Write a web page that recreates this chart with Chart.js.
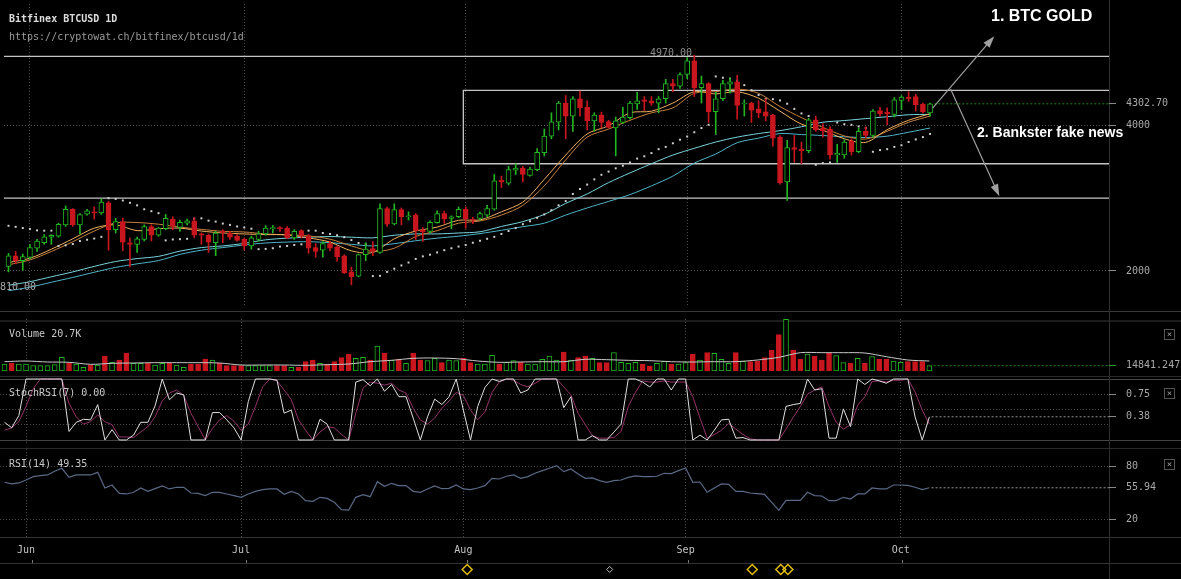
<!DOCTYPE html>
<html lang="en">
<head>
<meta charset="UTF-8">
<title>Bitfinex BTCUSD 1D</title>
<script src="https://cdn.jsdelivr.net/npm/chart.js"></script>
<style>
  html, body { margin: 0; padding: 0; background: #000; }
  body { position: relative; width: 1181px; height: 579px; overflow: hidden; font-family: 'DejaVu Sans Mono', monospace; }
  canvas { position: absolute; left: 0; }
  .txt { position: absolute; white-space: nowrap; font-size: 10px; line-height: 12px; color: #c8c8c8; }
  .sep { position: absolute; left: 0; width: 1181px; height: 1px; background: #2e2e2e; }
  .note { position: absolute; white-space: nowrap; color: #fff; font-family: 'Liberation Sans', Arial, sans-serif; font-weight: bold; }
  .close { position: absolute; left: 1164px; width: 9px; height: 9px; border: 1px solid #555; color: #999; font-size: 9px; line-height: 9px; text-align: center; }
</style>
</head>
<body>
  <div class="sep" style="top:311px;background:#383838"></div>
  <div class="sep" style="top:320px;height:2px;background:#1c1c1c"></div>
  <div class="sep" style="top:376px;background:#2a2a2a"></div>
  <div class="sep" style="top:379px;background:#444"></div>
  <div class="sep" style="top:440px;background:#444"></div>
  <div class="sep" style="top:448px;background:#2a2a2a"></div>
  <div class="sep" style="top:537px;background:#333"></div>
  <div class="sep" style="top:563px;background:#333"></div>
  <div style="position:absolute;left:1109px;top:0;width:1px;height:579px;background:#2e2e2e"></div>

  <canvas id="cMain" width="1181" height="311" style="top:0"></canvas>
  <canvas id="cVol" width="1181" height="52" style="top:319px"></canvas>
  <canvas id="cStoch" width="1181" height="67" style="top:376px"></canvas>
  <canvas id="cRsi" width="1181" height="116" style="top:449px"></canvas>
  <canvas id="cMark" width="1181" height="21" style="top:558px"></canvas>

  <div class="txt" style="left:9px;top:13px;font-weight:bold;color:#dcdcdc">Bitfinex BTCUSD 1D</div>
  <div class="txt" style="left:9px;top:31px;color:#9a9a9a">https://cryptowat.ch/bitfinex/btcusd/1d</div>
  <div class="txt" style="left:650px;top:47px;color:#8c8c8c">4970.00</div>
  <div class="txt" style="left:-6px;top:281px;color:#a8a8a8">1810.00</div>
  <div class="txt" style="left:9px;top:328px">Volume 20.7K</div>
  <div class="txt" style="left:9px;top:387px">StochRSI(7) 0.00</div>
  <div class="txt" style="left:9px;top:458px">RSI(14) 49.35</div>

  <div class="note" style="left:991px;top:7px;font-size:16px;line-height:18px">1. BTC GOLD</div>
  <div class="note" style="left:977px;top:124px;font-size:14px;line-height:16px">2. Bankster fake news</div>

  <div class="close" style="top:329px">×</div>
  <div class="close" style="top:388px">×</div>
  <div class="close" style="top:459px">×</div>

<script>
// daily candles, 2017-05-29 .. 2017-10-05 (index 0 .. 129)
const firstDay = '2017-05-29';
const opens = [
  2063,2210,2143,2188,2313,2389,2465,2479,2635,2850,
  2635,2783,2814,2801,2939,2568,2680,2389,2367,2434,
  2613,2492,2582,2716,2599,2658,2689,2510,2492,2389,
  2546,2523,2479,2434,2344,2434,2510,2582,2599,2590,
  2456,2555,2479,2322,2286,2376,2331,2210,1987,1928,
  2224,2309,2255,2859,2649,2845,2747,2769,2568,2546,
  2666,2792,2725,2747,2850,2716,2725,2770,2850,3248,
  3208,3387,3418,3316,3396,3629,3857,4049,4313,4134,
  4372,4255,4067,4148,4058,3969,4045,4112,4300,4358,
  4345,4313,4372,4582,4546,4707,4895,4524,4582,4193,
  4372,4573,4604,4300,4313,4233,4193,4148,3843,3226,
  3700,3678,3656,4081,3969,3955,3597,3597,3790,3642,
  3924,3866,4210,4188,4157,4349,4394,4403,4300,4179];
const highs = [
  2242,2268,2233,2367,2434,2501,2501,2658,2895,2859,
  2792,2850,2881,2993,2957,2725,2725,2456,2465,2635,
  2635,2599,2778,2747,2702,2716,2734,2523,2510,2546,
  2568,2546,2501,2456,2479,2546,2626,2626,2613,2613,
  2568,2568,2501,2376,2403,2412,2345,2224,2054,2233,
  2389,2403,2926,2881,2926,2868,2814,2792,2599,2689,
  2828,2823,2760,2881,2881,2740,2810,2904,3329,3307,
  3441,3477,3441,3427,3687,3955,4179,4336,4416,4403,
  4479,4345,4179,4188,4076,4121,4255,4336,4461,4403,
  4403,4403,4640,4640,4729,4940,4970,4685,4595,4461,
  4627,4658,4694,4358,4327,4345,4372,4157,3866,3799,
  3866,3776,4103,4134,4031,3987,3745,3808,3821,3969,
  3987,4224,4255,4246,4389,4416,4470,4434,4313,4313];
const lows = [
  1987,2098,2009,2166,2268,2367,2367,2465,2613,2613,
  2510,2769,2716,2778,2286,2523,2277,2054,2255,2412,
  2412,2479,2568,2568,2546,2635,2456,2367,2255,2210,
  2389,2434,2412,2286,2300,2412,2492,2523,2546,2447,
  2434,2456,2242,2188,2188,2277,2134,1964,1810,1920,
  2143,2210,2242,2613,2635,2635,2702,2434,2412,2523,
  2657,2657,2582,2734,2590,2650,2700,2747,2837,3150,
  3186,3329,3226,3307,3383,3584,3821,3942,3821,3924,
  4134,3942,3924,3969,3969,3584,4031,4090,4224,4210,
  4282,4179,4313,4470,4515,4649,4403,4313,4045,3879,
  4345,4448,4090,4134,4045,4112,4067,3718,3195,2971,
  3495,3477,3629,3924,3844,3539,3495,3553,3597,3629,
  3835,3844,4134,4014,4121,4224,4336,4202,4179,4134];
const closes = [
  2210,2143,2197,2322,2412,2470,2492,2644,2850,2635,
  2778,2828,2801,2948,2568,2680,2398,2367,2443,2613,
  2492,2590,2725,2613,2671,2689,2492,2492,2398,2523,
  2532,2465,2420,2344,2456,2510,2590,2599,2582,2456,
  2546,2479,2313,2268,2376,2313,2197,1973,1920,2224,
  2300,2268,2859,2644,2845,2747,2760,2555,2537,2671,
  2792,2716,2747,2850,2716,2700,2792,2859,3240,3226,
  3396,3418,3329,3405,3633,3857,4054,4313,4134,4372,
  4246,4067,4148,4045,3978,4067,4121,4313,4345,4336,
  4313,4372,4582,4546,4707,4895,4524,4582,4193,4372,
  4582,4604,4282,4313,4215,4179,4134,3830,3217,3700,
  3673,3656,4081,3942,3933,3597,3620,3776,3642,3924,
  3866,4202,4166,4166,4358,4394,4372,4291,4193,4302.7];
const volumes = [
  19600,21500,19600,19600,14900,14900,14900,17700,38300,21500,
  19600,10300,16800,16800,42000,24300,30800,49500,21500,21500,
  21500,16800,21500,21500,16800,10300,19600,19600,33600,30800,
  21500,14900,14900,14900,14900,14900,14900,14900,14900,14900,
  10300,10300,26100,30800,21500,19600,26100,37300,46700,35500,
  38300,30800,70000,49500,30800,32700,21500,49500,30800,28900,
  35500,23300,30800,28900,35500,23300,19600,19600,43900,19600,
  24300,28900,24300,19600,19600,32700,42000,30800,53200,30800,
  37300,42000,35500,23300,23300,51300,24300,21500,24300,19600,
  14000,21500,28000,19600,19600,23300,46700,30800,51300,49500,
  32700,21500,51300,28000,26100,28000,37300,58800,101700,144600,
  58800,33600,47600,42000,30800,49500,42900,23300,21500,35500,
  21500,40100,32700,32700,28000,24300,26100,26100,26100,14841.247];
const sar = [
  2622,2608,2591,2577,2559,2555,2555,2345,2353,2371,
  2412,2430,2447,2470,3002,2993,2971,2939,2904,2850,
  2823,2796,2421,2434,2438,2443,2720,2725,2693,2680,
  2653,2635,2613,2599,2582,2300,2304,2313,2336,2345,
  2358,2367,2555,2555,2523,2510,2492,2465,2425,2385,
  2367,1929,1933,1987,2031,2076,2116,2166,2201,2224,
  2255,2286,2313,2336,2358,2389,2416,2443,2470,2510,
  2550,2591,2644,2685,2732,2779,2837,2904,2962,3061,
  3128,3190,3262,3325,3369,3414,3450,3495,3548,3580,
  3624,3678,3709,3759,3808,3852,3911,3969,4014,4680,
  4662,4650,4620,4560,4490,4425,4372,4367,4349,4304,
  4233,4170,4134,3463,3486,3495,4045,4022,4014,3991,
  3969,3642,3665,3678,3709,3732,3777,3812,3844,3888];
const stochK = [
  0.29,0.20,0.40,1,1,1,1,1,1,0.14,
  0.29,0.34,0.33,0.58,0,0.17,0,0,0.08,0.29,
  0.29,0.56,1,0.66,0.77,0.74,0,0,0,0.45,
  0.45,0.33,0.20,0,0.63,1,1,1,0.98,0.44,
  0.49,0,0,0,0.34,0.26,0,0,0,0.95,
  0.99,0.89,1,0.80,0.91,0.71,0.71,0.36,0,0.38,
  0.67,0.58,0.71,1,0.49,0,0.55,0.86,1,0.96,
  1,1,0.77,0.82,1,1,1,1,0.53,0.71,
  0,0,0.07,0,0,0.13,0.26,1,1,0.95,
  0.87,1,1,0.82,1,1,0,0.08,0,0.16,
  0.33,0.34,0.03,0.04,0,0,0,0,0,0.55,
  0.58,0.60,1,0.82,0.84,0.03,0.03,0.51,0.22,1,
  0.91,1,0.97,0.93,1,1,1,0.38,0,0.38];
const stochD = [
  0.16,0.20,0.30,0.55,0.84,1,1,1,1,0.60,
  0.38,0.26,0.30,0.41,0.30,0.25,0.05,0.05,0.04,0.13,
  0.22,0.38,0.64,0.77,0.82,0.73,0.44,0.22,0,0.19,
  0.33,0.40,0.31,0.16,0.26,0.55,0.87,1,0.97,0.82,
  0.66,0.33,0.16,0,0.13,0.22,0.20,0.09,0,0.44,
  0.85,0.95,0.93,0.90,0.93,0.82,0.77,0.52,0.33,0.26,
  0.36,0.52,0.64,0.78,0.73,0.49,0.33,0.46,0.78,0.95,
  1,0.98,0.91,0.87,0.93,1,1,1,0.87,0.74,
  0.44,0.25,0.07,0.03,0.03,0.04,0.14,0.55,0.78,0.97,
  0.95,0.95,0.97,0.95,0.95,0.95,0.71,0.36,0.03,0.09,
  0.16,0.27,0.18,0.09,0.02,0,0,0,0,0.18,
  0.37,0.55,0.75,0.82,0.87,0.55,0.29,0.18,0.25,0.57,
  0.71,0.96,0.97,0.95,0.98,0.98,1,0.79,0.49,0.26];
const rsi = [
  62.2,60.3,61.4,64.8,68.6,69.7,70.5,74.7,78.1,67.8,
  70.5,70.5,70.5,73.5,55.7,59.1,49.6,48.9,50.8,55.7,
  51.9,54.9,58.0,54.6,56.5,56.5,50.0,49.6,47.0,50.8,
  50.8,48.9,47.0,45.1,48.9,51.9,53.8,54.6,54.6,48.5,
  51.9,48.9,41.3,40.5,45.1,43.9,39.4,31.0,30.6,45.1,
  48.1,45.8,62.9,57.6,61.0,58.4,58.4,51.9,50.8,54.6,
  58.0,54.9,55.3,59.1,54.6,53.8,55.7,58.4,66.7,65.9,
  69.0,70.5,66.7,68.6,72.4,75.4,78.1,81.1,74.3,77.3,
  71.6,66.7,67.1,64.1,62.2,64.1,64.8,67.8,69.4,68.6,
  68.6,69.0,72.4,72.0,75.4,78.5,62.2,62.5,50.8,55.7,
  60.3,59.9,51.9,51.9,50.0,49.2,48.5,39.4,30.3,41.7,
  41.7,41.7,50.8,47.0,46.6,41.3,41.3,45.1,43.2,48.9,
  48.9,55.7,54.6,54.6,59.1,59.1,58.7,56.5,53.8,55.94];

// moving averages read every third day
const maDays = [0,3,6,9,12,15,18,21,24,27,30,33,36,39,42,45,48,51,54,57,60,63,66,69,72,75,78,81,84,87,90,93,96,99,102,105,108,111,114,117,120,123,126,129];
const emaFast = [2116,2175,2300,2443,2590,2635,2555,2582,2590,2550,2523,2510,2501,2497,2456,2398,2277,2255,2443,2550,2604,2698,2703,2815,2949,3262,3597,3888,4000,4179,4201,4313,4470,4439,4470,4380,4201,4022,3938,3821,3772,3946,4076,4166];
const emaSlow = [2085,2152,2268,2403,2550,2662,2667,2644,2604,2573,2546,2537,2510,2497,2483,2438,2345,2269,2313,2474,2555,2658,2689,2770,2904,3172,3530,3844,3955,4076,4179,4246,4448,4470,4506,4448,4264,4112,3978,3861,3817,3924,4049,4134];
const maCyanA = [1803,1852,1920,1987,2063,2130,2170,2201,2273,2322,2345,2380,2429,2452,2465,2474,2465,2456,2492,2510,2510,2523,2540,2613,2680,2779,2931,3061,3217,3351,3477,3597,3690,3776,3844,3893,3933,3987,4049,4072,4099,4125,4152,4157];
const maCyanB = [1727,1776,1844,1911,1982,2049,2098,2143,2228,2286,2322,2358,2385,2398,2403,2389,2367,2345,2376,2416,2452,2479,2515,2560,2610,2658,2770,2868,2958,3052,3172,3307,3486,3611,3767,3830,3893,3879,3866,3848,3839,3857,3911,3969];
const volMa = [26100,28000,25200,24300,18700,21500,22400,23300,23300,23300,22400,16800,16800,16800,15900,17700,19600,26100,29900,35500,36400,34500,28000,24300,25200,26100,26100,32700,31700,29900,28900,26100,25200,26100,26100,30800,38300,51300,51300,51300,50400,40100,30800,28000];

// drawn levels and notes
const levelLines = [4955, 3003];
const boxStart = 63.67, boxTop = 4487, boxBottom = 3477;
const arrows = [[129.36, 4242, 138.0, 5235], [131.87, 4506, 138.7, 3030]];
const eventMarks = [64, 104, 108, 109];
const smallMarks = [84];
const monthTicks = [3, 33, 64, 95, 125];
const monthLabels = ['Jun', 'Jul', 'Aug', 'Sep', 'Oct'];

const MONO = "'DejaVu Sans Mono', monospace";
const X_MIN = -0.63, X_MAX = 154.05;
const GREEN = '#22b422', RED = '#c8161e';
const days = closes.map((c, i) => i);
const last = days.length - 1;
const isUp = i => closes[i] >= opens[i];
const pts = (xs, ys) => xs.map((x, k) => ({x: x, y: ys[k]}));
const hline = (x0, v) => [{x: x0, y: v}, {x: X_MAX, y: v}];

function xAxis(showLabels) {
  return {
    type: 'linear', min: X_MIN, max: X_MAX, offset: false,
    afterBuildTicks: s => { s.ticks = monthTicks.map(v => ({value: v})); },
    afterFit: s => { s.height = showLabels ? 28 : 0; s.paddingLeft = 0; s.paddingRight = 0; },
    ticks: { display: showLabels, autoSkip: false, maxRotation: 0, padding: 7,
             color: '#c4c4c4', font: {family: MONO, size: 10},
             callback: (v, i) => monthLabels[i] },
    grid: { color: '#4a4a4a', drawTicks: false, offset: false },
    border: { display: false, dash: [1, 2] }
  };
}

function yAxis(min, max, values, fmt, gridFor, tickFor) {
  return {
    position: 'right', min: min, max: max,
    afterBuildTicks: s => { s.ticks = values.map(v => ({value: v})); },
    afterFit: s => { s.width = 72; s.paddingTop = 0; s.paddingBottom = 0; },
    ticks: { color: '#a8a8a8', font: {family: MONO, size: 10}, padding: 10, callback: fmt },
    grid: { color: c => gridFor(c.tick ? c.tick.value : null), tickLength: 7,
            tickColor: c => tickFor(c.tick ? c.tick.value : null) },
    border: { display: false, dash: [1, 2] }
  };
}

const common = {
  responsive: false, animation: false, events: [],
  layout: { padding: 0 },
  plugins: { legend: { display: false }, tooltip: { enabled: false } }
};

const lineDs = (data, color, order, extra) => Object.assign({
  type: 'line', data: data, borderColor: color, borderWidth: 1, pointRadius: 0, tension: 0, order: order
}, extra || {});

const arrowPlugin = {
  id: 'arrows',
  afterDatasetsDraw(chart) {
    const {ctx, scales: {x, y}} = chart;
    ctx.save();
    ctx.strokeStyle = '#a0a0a0';
    ctx.fillStyle = '#a0a0a0';
    ctx.lineWidth = 1.2;
    arrows.forEach(a => {
      const x1 = x.getPixelForValue(a[0]), y1 = y.getPixelForValue(a[1]);
      const x2 = x.getPixelForValue(a[2]), y2 = y.getPixelForValue(a[3]);
      const ang = Math.atan2(y2 - y1, x2 - x1);
      ctx.beginPath(); ctx.moveTo(x1, y1); ctx.lineTo(x2 - 8 * Math.cos(ang), y2 - 8 * Math.sin(ang)); ctx.stroke();
      ctx.beginPath();
      ctx.moveTo(x2, y2);
      ctx.lineTo(x2 - 12 * Math.cos(ang) + 4 * Math.sin(ang), y2 - 12 * Math.sin(ang) - 4 * Math.cos(ang));
      ctx.lineTo(x2 - 12 * Math.cos(ang) - 4 * Math.sin(ang), y2 - 12 * Math.sin(ang) + 4 * Math.cos(ang));
      ctx.closePath(); ctx.fill();
    });
    ctx.restore();
  }
};

// small month tick marks just above the bottom axis line
const monthTickPlugin = {
  id: 'monthTicks',
  afterDraw(chart) {
    const {ctx, scales: {x}} = chart;
    ctx.save();
    ctx.strokeStyle = '#777';
    ctx.lineWidth = 1;
    monthTicks.forEach(v => {
      const px = Math.round(x.getPixelForValue(v)) + 0.5;
      ctx.beginPath(); ctx.moveTo(px, 2); ctx.lineTo(px, 5); ctx.stroke();
    });
    ctx.restore();
  }
};

// main price panel
new Chart(document.getElementById('cMain'), {
  type: 'bar',
  data: { datasets: [
    lineDs(hline(last + 0.6, closes[last]), '#1e8a1e', 0, { borderDash: [2, 2], clip: false }),
    { type: 'bar', data: days.map(i => ({x: i, y: [opens[i], closes[i]]})), grouped: false, barThickness: 5,
      minBarLength: 1, borderWidth: 1, borderSkipped: false, order: 1,
      backgroundColor: days.map(i => isUp(i) ? '#000' : RED),
      borderColor: days.map(i => isUp(i) ? GREEN : RED) },
    { type: 'bar', data: days.map(i => ({x: i, y: [lows[i], highs[i]]})), grouped: false, barThickness: 1,
      order: 2, backgroundColor: days.map(i => isUp(i) ? GREEN : RED) },
    lineDs(pts(days, sar), '#d0d0d0', 3, { showLine: false, pointRadius: 1.4, pointStyle: 'rect',
      pointBackgroundColor: '#d0d0d0', pointBorderWidth: 0 }),
    lineDs(pts(maDays, emaFast), '#f0b060', 4, { tension: 0.3 }),
    lineDs(pts(maDays, emaSlow), '#c8803c', 4, { tension: 0.3 }),
    lineDs(pts(maDays, maCyanA), '#78d4dc', 5, { tension: 0.3 }),
    lineDs(pts(maDays, maCyanB), '#4fb4c8', 5, { tension: 0.3 }),
    lineDs(hline(X_MIN, levelLines[0]), '#c4c4c4', 6, { borderWidth: 1.3 }),
    lineDs(hline(X_MIN, levelLines[1]), '#c4c4c4', 6, { borderWidth: 1.3 }),
    lineDs([{x: X_MAX, y: boxTop}, {x: boxStart, y: boxTop}, {x: boxStart, y: boxBottom}, {x: X_MAX, y: boxBottom}],
      '#c4c4c4', 6, { borderWidth: 1.3 })
  ]},
  options: Object.assign({}, common, {
    scales: {
      x: xAxis(false),
      y: yAxis(1503.4, 5677.9, [2000, 4000, closes[last]],
        v => v === closes[last] ? v.toFixed(2) : String(v),
        v => v === closes[last] ? 'transparent' : '#555',
        () => '#888')
    }
  }),
  plugins: [arrowPlugin]
});

// volume panel
new Chart(document.getElementById('cVol'), {
  type: 'bar',
  data: { datasets: [
    lineDs(hline(last + 0.6, volumes[last]), '#1e8a1e', 0, { borderDash: [2, 2], clip: false }),
    lineDs(pts(maDays, volMa), '#c8c8c8', 1, { tension: 0.3 }),
    { type: 'bar', data: days.map(i => ({x: i, y: volumes[i]})), grouped: false, barThickness: 5,
      borderWidth: 1, borderSkipped: false, order: 2,
      backgroundColor: days.map(i => isUp(i) ? '#000' : RED),
      borderColor: days.map(i => isUp(i) ? GREEN : RED) }
  ]},
  options: Object.assign({}, common, {
    scales: {
      x: xAxis(false),
      y: yAxis(0, 145600, [volumes[last]], v => v.toFixed(3), () => 'transparent', () => '#2a9a2a')
    }
  })
});

// StochRSI panel
new Chart(document.getElementById('cStoch'), {
  type: 'line',
  data: { datasets: [
    lineDs(hline(last + 0.3, stochK[last]), '#9a9a9a', 0, { borderDash: [2, 2], clip: false }),
    lineDs(pts(days, stochK), '#e0e0e0', 1),
    lineDs(pts(days, stochD), '#93336a', 2)
  ]},
  options: Object.assign({}, common, {
    scales: {
      x: xAxis(false),
      y: yAxis(-0.0492, 1.0492, [0.25, 0.38, 0.5, 0.75],
        v => (v === 0.75 || v === 0.38) ? v.toFixed(2) : '',
        v => v === 0.38 ? 'transparent' : '#4a4a4a',
        v => (v === 0.75 || v === 0.38) ? '#888' : 'transparent')
    }
  })
});

// RSI panel with month axis
new Chart(document.getElementById('cRsi'), {
  type: 'line',
  data: { datasets: [
    lineDs(hline(last + 0.3, rsi[last]), '#9a9a9a', 0, { borderDash: [2, 2], clip: false }),
    lineDs(pts(days, rsi), '#5a6986', 1, { borderWidth: 1.2 })
  ]},
  options: Object.assign({}, common, {
    scales: {
      x: xAxis(true),
      y: yAxis(0, 100, [20, rsi[last], 80],
        v => v === rsi[last] ? v.toFixed(2) : String(v),
        v => v === rsi[last] ? 'transparent' : '#4a4a4a',
        () => '#888')
    }
  })
});

// event markers row (centre line sits 13 px below the canvas top)
new Chart(document.getElementById('cMark'), {
  type: 'scatter',
  data: { datasets: [
    { data: eventMarks.map(i => ({x: i, y: 0})), pointStyle: 'rectRot', pointRadius: 5, clip: false,
      borderColor: '#e0bd10', borderWidth: 1.5, backgroundColor: 'transparent' },
    { data: smallMarks.map(i => ({x: i, y: 0})), pointStyle: 'rectRot', pointRadius: 3, clip: false,
      borderColor: '#bbbbbb', borderWidth: 1, backgroundColor: 'transparent' }
  ]},
  options: Object.assign({}, common, {
    scales: {
      x: Object.assign(xAxis(false), { grid: { display: false } }),
      y: { display: true, min: -0.8, max: 1.3, position: 'right',
           afterFit: s => { s.width = 72; s.paddingTop = 0; s.paddingBottom = 0; },
           ticks: { display: false }, grid: { display: false }, border: { display: false } }
    }
  }),
  plugins: [monthTickPlugin]
});
</script>
</body>
</html>
